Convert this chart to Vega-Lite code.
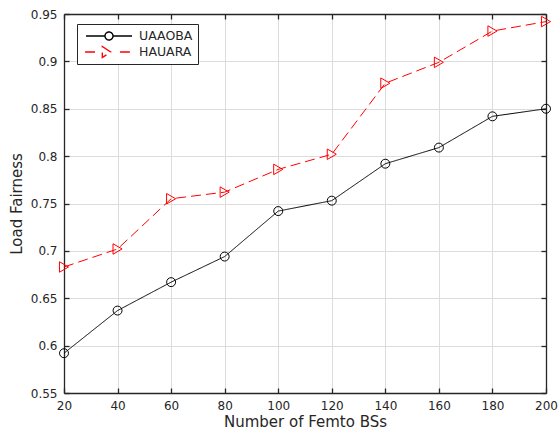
{
  "$schema": "https://vega.github.io/schema/vega-lite/v6.json",
  "width": 482,
  "height": 379,
  "autosize": {"type": "none"},
  "padding": {"left": 64, "top": 14, "right": 12, "bottom": 48},
  "background": "white",
  "data": {
    "values": [
      {"n": 20, "series": "UAAOBA", "v": 0.592},
      {"n": 40, "series": "UAAOBA", "v": 0.637},
      {"n": 60, "series": "UAAOBA", "v": 0.667},
      {"n": 80, "series": "UAAOBA", "v": 0.694},
      {"n": 100, "series": "UAAOBA", "v": 0.742},
      {"n": 120, "series": "UAAOBA", "v": 0.753},
      {"n": 140, "series": "UAAOBA", "v": 0.792},
      {"n": 160, "series": "UAAOBA", "v": 0.809},
      {"n": 180, "series": "UAAOBA", "v": 0.842},
      {"n": 200, "series": "UAAOBA", "v": 0.850},
      {"n": 20, "series": "HAUARA", "v": 0.683},
      {"n": 40, "series": "HAUARA", "v": 0.702},
      {"n": 60, "series": "HAUARA", "v": 0.755},
      {"n": 80, "series": "HAUARA", "v": 0.762},
      {"n": 100, "series": "HAUARA", "v": 0.786},
      {"n": 120, "series": "HAUARA", "v": 0.802},
      {"n": 140, "series": "HAUARA", "v": 0.877},
      {"n": 160, "series": "HAUARA", "v": 0.899},
      {"n": 180, "series": "HAUARA", "v": 0.932},
      {"n": 200, "series": "HAUARA", "v": 0.942}
    ]
  },
  "config": {
    "font": "DejaVu Sans",
    "view": {"stroke": null},
    "axis": {
      "labelFont": "DejaVu Sans",
      "labelFontSize": 12,
      "labelColor": "#262626",
      "labelFlush": false,
      "labelOverlap": false,
      "titleFont": "DejaVu Sans",
      "titleFontSize": 15,
      "titleFontWeight": "normal",
      "titleColor": "#262626",
      "domainColor": "#262626",
      "domainWidth": 1.3,
      "tickColor": "#262626",
      "tickWidth": 1.3,
      "gridColor": "#dcdcdc",
      "gridWidth": 1,
      "gridOpacity": 1
    },
    "legend": {
      "labelFont": "DejaVu Sans",
      "labelFontSize": 12.5,
      "labelColor": "#262626"
    }
  },
  "layer": [
    {
      "mark": {"type": "line", "strokeWidth": 1},
      "encoding": {
        "x": {
          "field": "n", "type": "quantitative",
          "scale": {"domain": [20, 200], "nice": false, "zero": false},
          "axis": {
            "orient": "bottom",
            "values": [20, 40, 60, 80, 100, 120, 140, 160, 180, 200],
            "grid": true, "tickSize": -5, "labelPadding": 12,
            "title": "Number of Femto BSs", "titlePadding": 3
          }
        },
        "y": {
          "field": "v", "type": "quantitative",
          "scale": {"domain": [0.55, 0.95], "nice": false, "zero": false},
          "axis": {
            "orient": "left",
            "values": [0.55, 0.6, 0.65, 0.7, 0.75, 0.8, 0.85, 0.9, 0.95],
            "format": "~g",
            "grid": true, "tickSize": -5, "labelPadding": 12,
            "title": "Load Fairness", "titlePadding": 6
          }
        },
        "color": {
          "field": "series", "type": "nominal",
          "scale": {"domain": ["UAAOBA", "HAUARA"], "range": ["#000000", "#ff0000"]},
          "legend": {
            "title": null,
            "orient": "none",
            "legendX": 13,
            "legendY": 10,
            "direction": "vertical",
            "strokeColor": "#262626",
            "fillColor": "white",
            "padding": 5,
            "symbolSize": 2116,
            "symbolStrokeWidth": 1.4,
            "symbolOffset": 3,
            "clipHeight": 14,
            "rowPadding": 2,
            "labelOffset": 6,
            "encode": {
              "symbols": {
                "update": {
                  "shape": {"signal": "datum.value === 'UAAOBA' ? 'M-1,0L-0.174,0M0.174,0L1,0M0.174,0C0.174,0.096 0.096,0.174 0,0.174C-0.096,0.174 -0.174,0.096 -0.174,0C-0.174,-0.096 -0.096,-0.174 0,-0.174C0.096,-0.174 0.174,-0.096 0.174,0Z' : 'M-1.04,0L-0.61,0M-0.29,-0.24L0.07,0L-0.29,0.24ZM0.48,0L0.91,0'"},
                  "size": {"value": 2116},
                  "strokeDash": {"value": [1, 0]},
                  "fill": {"value": "transparent"},
                  "opacity": {"value": 1}
                }
              }
            }
          }
        },
        "strokeDash": {
          "field": "series", "type": "nominal",
          "scale": {"domain": ["UAAOBA", "HAUARA"], "range": [[1, 0], [10, 5]]},
          "legend": null
        }
      }
    },
    {
      "transform": [{"filter": "datum.series === 'UAAOBA'"}],
      "mark": {"type": "point", "shape": "circle", "filled": false, "strokeWidth": 1, "size": 80, "opacity": 1},
      "encoding": {
        "x": {"field": "n", "type": "quantitative", "axis": null},
        "y": {"field": "v", "type": "quantitative", "axis": null},
        "color": {"field": "series", "type": "nominal"}
      }
    },
    {
      "transform": [{"filter": "datum.series === 'HAUARA'"}],
      "mark": {"type": "point", "shape": "triangle-right", "filled": false, "strokeWidth": 1, "size": 110, "opacity": 1},
      "encoding": {
        "x": {"field": "n", "type": "quantitative", "axis": null},
        "y": {"field": "v", "type": "quantitative", "axis": null},
        "color": {"field": "series", "type": "nominal"}
      }
    },
    {
      "mark": {"type": "point", "opacity": 0},
      "encoding": {
        "x": {
          "field": "n", "type": "quantitative",
          "axis": {"orient": "top", "values": [20, 40, 60, 80, 100, 120, 140, 160, 180, 200], "labels": false, "grid": false, "tickSize": -5, "title": null}
        },
        "y": {
          "field": "v", "type": "quantitative",
          "axis": {"orient": "right", "values": [0.55, 0.6, 0.65, 0.7, 0.75, 0.8, 0.85, 0.9, 0.95], "labels": false, "grid": false, "tickSize": -5, "title": null}
        }
      }
    }
  ],
  "resolve": {"axis": {"x": "independent", "y": "independent"}}
}
